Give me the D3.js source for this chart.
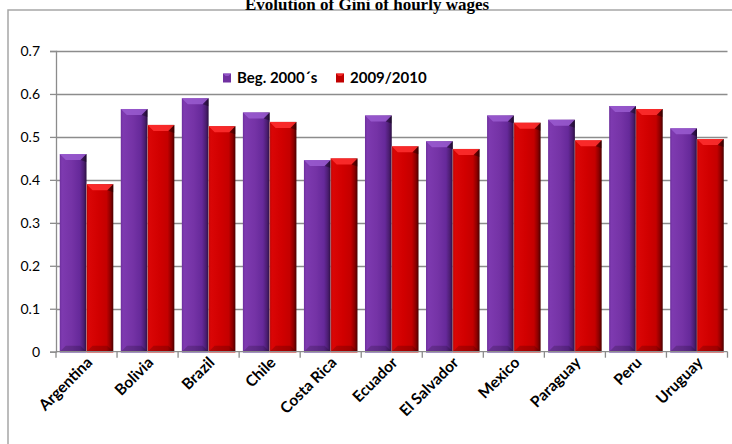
<!DOCTYPE html>
<html>
<head>
<meta charset="utf-8">
<script src="https://cdn.jsdelivr.net/npm/d3@7"></script>
<style>
  html, body { margin: 0; padding: 0; background: #fff; }
  svg { display: block; }
</style>
</head>
<body>
<svg id="chart" width="732" height="444"></svg>
<script>
// Gini coefficient of hourly wages by country
const countries = ["Argentina", "Bolivia", "Brazil", "Chile", "Costa Rica", "Ecuador",
  "El Salvador", "Mexico", "Paraguay", "Peru", "Uruguay"];
const seriesNames = ["Beg. 2000\u00b4s", "2009/2010"];
const begValues = [0.460, 0.565, 0.590, 0.557, 0.446, 0.550, 0.490, 0.550, 0.540, 0.572, 0.520];
const endValues = [0.390, 0.528, 0.525, 0.535, 0.450, 0.478, 0.472, 0.533, 0.492, 0.565, 0.495];
const yTicks = [0, 0.1, 0.2, 0.3, 0.4, 0.5, 0.6, 0.7];

const svg = d3.select("#chart");
const plot = { left: 56, right: 727.5, top: 51, bottom: 351.7 };

const x = d3.scaleBand().domain(countries).range([plot.left, plot.right]).paddingInner(0).paddingOuter(0);
const xs = d3.scaleBand().domain([0, 1]).range([0, x.bandwidth()]).paddingOuter(0.14).paddingInner(0);
const y = d3.scaleLinear().domain([0, 0.7]).range([plot.bottom, plot.top]);

// gradients giving the bars their rounded, bevelled look
const defs = svg.append("defs");
function hGrad(id, stops) {
  const g = defs.append("linearGradient").attr("id", id).attr("x1", 0).attr("x2", 1).attr("y1", 0).attr("y2", 0);
  stops.forEach(([o, c]) => g.append("stop").attr("offset", o).attr("stop-color", c));
}
hGrad("gPurple", [[0, "#6c2e9c"], [0.08, "#7e3ab0"], [0.45, "#7533a6"], [0.75, "#66299a"], [0.9, "#4b1d70"], [1, "#2c0f42"]]);
hGrad("gRed", [[0, "#b80000"], [0.08, "#da0606"], [0.45, "#d10000"], [0.75, "#c40000"], [0.9, "#8a0000"], [1, "#4a0000"]]);
const palette = [
  { fill: "url(#gPurple)", cap: "#9a5cd0", base: "#a58bd0", swatch: "#7030a0" },
  { fill: "url(#gRed)", cap: "#ff3030", base: "#f07a7a", swatch: "#c00000" }
];

// outer frame
svg.append("rect").attr("x", 8).attr("y", 10).attr("width", 740).attr("height", 460)
  .attr("fill", "none").attr("stroke", "#a6a6a6").attr("stroke-width", 1.5);

// title (partly above the frame)
svg.append("text").attr("x", 367).attr("y", 10).attr("text-anchor", "middle")
  .attr("font-family", "'Liberation Serif', 'Times New Roman', serif").attr("font-weight", "bold")
  .attr("font-size", 17).attr("fill", "#000").text("Evolution of Gini of hourly wages");

// horizontal gridlines
svg.append("g").selectAll("line").data(yTicks.slice(1)).join("line")
  .attr("x1", plot.left).attr("x2", plot.right)
  .attr("y1", d => Math.round(y(d)) + 0.5).attr("y2", d => Math.round(y(d)) + 0.5)
  .attr("stroke", "#8c8c8c").attr("stroke-width", 1.3);

// y axis
const yAxis = svg.append("g").attr("transform", `translate(${plot.left},0)`)
  .call(d3.axisLeft(y).tickValues(yTicks).tickSize(6).tickPadding(10).tickFormat(d => d === 0 ? "0" : d3.format(".1f")(d)));
yAxis.select(".domain").attr("stroke", "#8c8c8c").attr("stroke-width", 1.3);
yAxis.selectAll(".tick line").attr("stroke", "#8c8c8c").attr("stroke-width", 1.3);
yAxis.selectAll("text").attr("font-family", "Lato, 'Open Sans', sans-serif").attr("font-size", 14).attr("fill", "#000");

// bars
const rows = countries.map((c, i) => ({ c, vals: [begValues[i], endValues[i]] }));
const groups = svg.append("g").selectAll("g").data(rows).join("g")
  .attr("transform", d => `translate(${x(d.c)},0)`);
const bars = groups.selectAll("g.bar").data(d => d.vals.map((v, k) => ({ v, k }))).join("g").attr("class", "bar");
bars.append("rect")
  .attr("x", d => xs(d.k)).attr("width", xs.bandwidth())
  .attr("y", d => y(d.v)).attr("height", d => y(0) - y(d.v))
  .attr("fill", d => palette[d.k].fill);
// bevelled top cap
bars.append("path")
  .attr("d", d => {
    const x0 = xs(d.k), w = xs.bandwidth(), t = y(d.v), b = 6;
    return `M${x0},${t} L${x0 + w},${t} L${x0 + w - b},${t + b} L${x0 + b},${t + b} Z`;
  })
  .attr("fill", d => palette[d.k].cap).attr("opacity", 0.85);
bars.append("path")
  .attr("d", d => {
    const x0 = xs(d.k), w = xs.bandwidth(), t = y(d.v), b = 6;
    return `M${x0 + w},${t} L${x0 + w - b},${t + b} L${x0 + w},${t + b + 2} Z`;
  })
  .attr("fill", "#000").attr("opacity", 0.35);
// bevelled bottom
bars.append("path")
  .attr("d", d => {
    const x0 = xs(d.k), w = xs.bandwidth(), bt = y(0), b = 6;
    return `M${x0},${bt} L${x0 + b},${bt - b} L${x0 + w - b},${bt - b} L${x0 + w},${bt} Z`;
  })
  .attr("fill", "#000").attr("opacity", 0.18);
bars.append("line")
  .attr("x1", d => xs(d.k)).attr("x2", d => xs(d.k) + xs.bandwidth())
  .attr("y1", y(0) + 0.5).attr("y2", y(0) + 0.5)
  .attr("stroke", d => palette[d.k].base).attr("stroke-width", 1.5);
// thin separator between the paired bars
bars.filter(d => d.k === 1).append("line")
  .attr("x1", d => xs(d.k)).attr("x2", d => xs(d.k))
  .attr("y1", d => y(d.v)).attr("y2", y(0))
  .attr("stroke", "#c8a0a0").attr("stroke-width", 0.8).attr("opacity", 0.6);

// x axis with ticks at category boundaries
const xAxisG = svg.append("g");
xAxisG.append("line").attr("x1", plot.left).attr("x2", plot.right).attr("y1", plot.bottom).attr("y2", plot.bottom)
  .attr("stroke", "#8c8c8c").attr("stroke-width", 1.3);
xAxisG.selectAll("line.tk").data(d3.range(countries.length + 1)).join("line").attr("class", "tk")
  .attr("x1", i => plot.left + i * x.step()).attr("x2", i => plot.left + i * x.step())
  .attr("y1", plot.bottom).attr("y2", plot.bottom + 6)
  .attr("stroke", "#8c8c8c").attr("stroke-width", 1.3);
xAxisG.selectAll("text").data(countries).join("text")
  .attr("transform", d => `translate(${x(d) + x.bandwidth() / 2 + 3},${plot.bottom + 8}) rotate(-45)`)
  .attr("text-anchor", "end").attr("dy", "0.35em")
  .attr("font-family", "Lato, 'Open Sans', sans-serif").attr("font-weight", "bold")
  .attr("font-size", 15.5).attr("fill", "#000").text(d => d);

// legend
const legend = svg.append("g").attr("transform", "translate(223,78)");
const legX = [0, 113];
seriesNames.forEach((name, k) => {
  const g = legend.append("g").attr("transform", `translate(${legX[k]},0)`);
  g.append("rect").attr("x", 0).attr("y", -4.5).attr("width", 8).attr("height", 9).attr("fill", palette[k].swatch);
  g.append("path").attr("d", "M0,-4.5 L8,-4.5 L5.5,-2 L2.5,-2 Z").attr("fill", palette[k].cap).attr("opacity", 0.8);
  g.append("text").attr("x", 14).attr("y", 0).attr("dy", "0.35em")
    .attr("font-family", "Lato, 'Open Sans', sans-serif").attr("font-weight", "bold")
    .attr("font-size", 15).attr("fill", "#000").text(name);
});
</script>
</body>
</html>
